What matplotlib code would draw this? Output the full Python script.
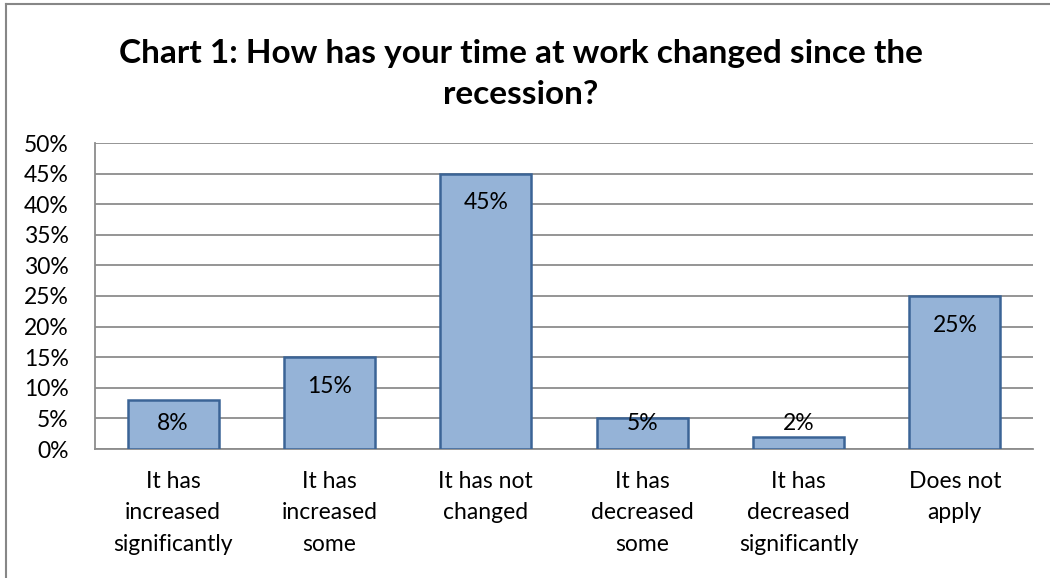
import matplotlib.pyplot as plt
from matplotlib.lines import Line2D

categories = ['It has\nincreased\nsignificantly', 'It has\nincreased\nsome', 'It has not\nchanged',
              'It has\ndecreased\nsome', 'It has\ndecreased\nsignificantly', 'Does not\napply']
values = [8, 15, 45, 5, 2, 25]
yticks = [0, 5, 10, 15, 20, 25, 30, 35, 40, 45, 50]

plt.rcParams['font.family'] = ['Lato', 'DejaVu Sans']

W, H = 1050, 578
fig = plt.figure(figsize=(W / 100, H / 100), dpi=100)
ax = fig.add_axes([95 / W, 1 - 449 / H, (1033 - 95) / W, (449 - 143) / H])

x = range(len(values))
ax.bar(x, values, width=0.58, color='#95B3D7', edgecolor='#3B6496', linewidth=1.8, zorder=3)

# value labels sit inside the top of each bar, never lower than a floor
for i, v in enumerate(values):
    ax.text(i, max(v - 4.75, 4.1), '%d%%' % v, ha='center', va='center', fontsize=16.5, zorder=4)

ax.set_xlim(-0.5, len(values) - 0.5)
ax.set_ylim(0, 50)
ax.set_yticks(yticks)
ax.set_yticklabels(['%d%%' % t for t in yticks], fontsize=16.5)
ax.set_xticks(list(x))
ax.set_xticklabels(categories, fontsize=16.5, linespacing=1.6)
ax.tick_params(axis='both', length=0)
ax.tick_params(axis='y', pad=19)
ax.tick_params(axis='x', pad=16)
ax.yaxis.grid(True, color='#8C8C8C', linewidth=1.3, zorder=0)
for s in ['top', 'right']:
    ax.spines[s].set_visible(False)
for s in ['left', 'bottom']:
    ax.spines[s].set_color('#8C8C8C')
    ax.spines[s].set_linewidth(1.3)

fig.text(521 / W, 1 - 74 / H, 'Chart 1: How has your time at work changed since the\nrecession?',
         ha='center', va='center', fontsize=24, fontweight='bold', linespacing=1.5)

# chart frame (top and left edges)
fig.add_artist(Line2D([6 / W, 1], [1 - 4 / H, 1 - 4 / H], color='#878787', linewidth=1.5))
fig.add_artist(Line2D([6 / W, 6 / W], [0, 1 - 4 / H], color='#878787', linewidth=1.5))

fig.savefig('out.png', dpi=100)
